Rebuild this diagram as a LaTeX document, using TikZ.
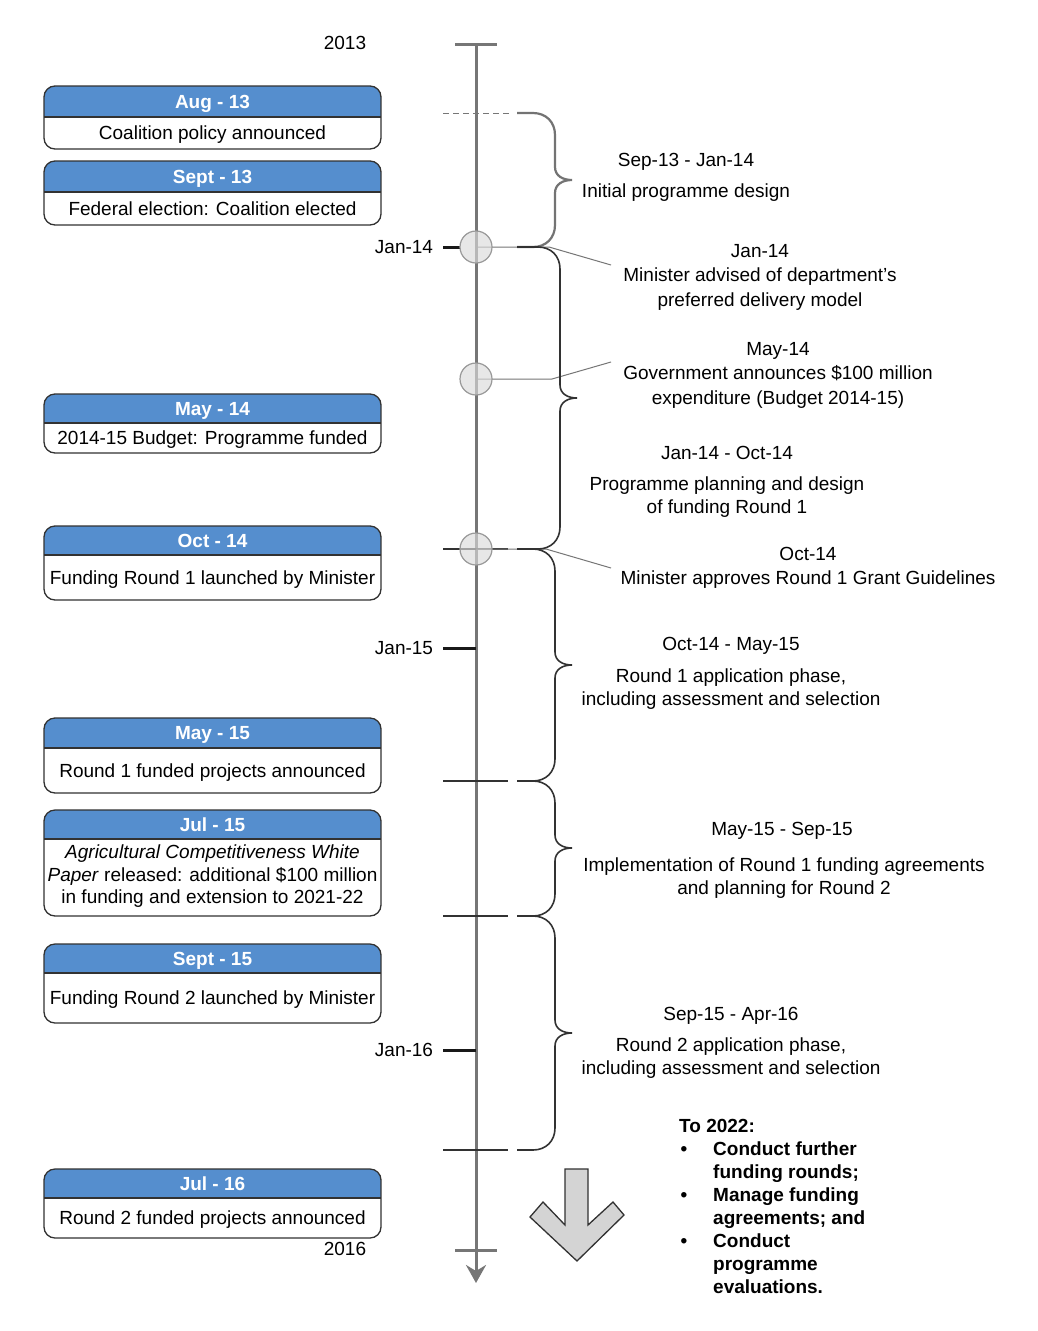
\documentclass[tikz,border=0pt]{standalone}
\usepackage{fontspec}
\setmainfont{Liberation Sans}
\usetikzlibrary{arrows.meta}

\definecolor{headblue}{RGB}{85,142,206}
\definecolor{axisgray}{RGB}{118,118,118}
\definecolor{linedark}{RGB}{50,50,50}
\definecolor{arrowfill}{RGB}{212,212,212}

\tikzset{
  boxline/.style={draw=linedark, line width=1.3pt},
  headtext/.style={text=white, font=\fontsize{19}{23}\selectfont\bfseries, inner sep=0pt},
  bodytext/.style={font=\fontsize{19}{22.5}\selectfont, align=center, inner sep=0pt},
  oneline/.style={font=\fontsize{19}{23}\selectfont, inner sep=0pt, text height=13.6pt, text depth=0pt},
  datetext/.style={font=\fontsize{19}{24.5}\selectfont, align=center, inner sep=0pt},
  desctext/.style={font=\fontsize{19}{22.5}\selectfont, align=center, inner sep=0pt},
  listtext/.style={font=\fontsize{19}{23}\selectfont\bfseries, align=left, inner sep=0pt},
  axisline/.style={draw=axisgray, line width=3pt},
  monthtick/.style={draw=black!90, line width=3pt},
  bound/.style={draw=linedark, line width=1.3pt},
  curly/.style={draw=linedark, line width=1.6pt},
  callout/.style={draw=axisgray, line width=1pt},
  milestone/.style={circle, minimum size=32pt, inner sep=0pt, draw=black!40,
    fill=black!14, fill opacity=0.65, line width=1.2pt},
}

% event box: name, top, split, bottom, date, text, shift of text
\newcommand{\eventbox}[7]{%
  \begin{scope}
    \clip[rounded corners=11pt] (44,#2) rectangle (381,#4);
    \fill[headblue] (44,#2) rectangle (381,#3);
  \end{scope}
  \draw[boxline, rounded corners=11pt] (44,#2) rectangle (381,#4);
  \draw[boxline] (44,#3) -- (381,#3);
  \node[headtext, text height=13.6pt, text depth=0pt] (#1date) at (212.5,{(#2+#3)/2}) {#5};
  \node[bodytext] (#1text) at (212.5,{(#3+#4)/2+#7}) {#6};
}

% curly brace: top, bottom, vertical x, middle y
\newcommand{\curlybrace}[4]{%
  (517,#1) -- (#3-22,#1) .. controls (#3-9,#1) and (#3,#1+9) .. (#3,#1+22)
    -- (#3,#4-13) .. controls (#3,#4-4) and (#3+8,#4) .. (#3+17,#4)
    .. controls (#3+8,#4) and (#3,#4+4) .. (#3,#4+13)
    -- (#3,#2-22) .. controls (#3,#2-9) and (#3-9,#2) .. (#3-22,#2) -- (517,#2)
}

\begin{document}
\begin{tikzpicture}[x=1pt, y=-1pt]
  \useasboundingbox (0,0) rectangle (1038,1331);
  \fill[white] (0,0) rectangle (1038,1331);

  % timeline
  \coordinate (top) at (476,44);
  \coordinate (bottom) at (476,1283);
  \draw[axisline, -{Stealth[length=18pt, width=20pt, inset=6pt]}] (top) -- (bottom);
  \draw[axisline] (455,44) -- (497,44);
  \draw[axisline] (455,1250) -- (497,1250);

  % years and months
  \node[oneline] (y2013) at (345,43) {2013};
  \node[oneline] (y2016) at (345,1249) {2016};
  \node[oneline] (jan14) at (404,247) {Jan-14};
  \node[oneline] (jan15) at (404,648) {Jan-15};
  \node[oneline] (jan16) at (404,1050) {Jan-16};
  \draw[monthtick] (443,247) -- (460,247);
  \draw[monthtick] (443,648) -- (476,648);
  \draw[monthtick] (443,1050) -- (476,1050);

  % period boundaries
  \draw[draw=axisgray, line width=1pt, dash pattern=on 6pt off 4pt] (443,113) -- (510,113);
  \foreach \y in {549,781,916,1150}
    \draw[bound] (443,\y) -- (508,\y);

  % milestones
  \coordinate (m1bend) at (549,247);
  \coordinate (m1end) at (611,265);
  \coordinate (m2bend) at (552,379);
  \coordinate (m2end) at (611,362);
  \coordinate (m3bend) at (546,549);
  \coordinate (m3end) at (611,568);
  \draw[callout] (476,247) -- (m1bend) -- (m1end);
  \draw[callout] (476,379) -- (m2bend) -- (m2end);
  \draw[callout] (476,549) -- (m3bend) -- (m3end);

  % braces
  \draw[curly, draw=black!55, line width=2.2pt] \curlybrace{113}{247}{555}{180};
  \draw[curly] \curlybrace{247}{549}{560}{398};
  \draw[curly] \curlybrace{549}{781}{555}{665};
  \draw[curly] \curlybrace{781}{916}{555}{848};
  \draw[curly] \curlybrace{916}{1150}{555}{1033};

  \node[milestone] (m1) at (476,247) {};
  \node[milestone] (m2) at (476,379) {};
  \node[milestone] (m3) at (476,549) {};

  % events
  \eventbox{aug13}{86}{117}{149}{Aug - 13}{Coalition policy announced}{2}
  \eventbox{sep13}{161}{192}{225}{Sept - 13}{Federal election: Coalition elected}{0}
  \eventbox{may14}{394}{423}{453}{May - 14}{2014-15 Budget: Programme funded}{2}
  \eventbox{oct14}{526}{555}{600}{Oct - 14}{Funding Round 1 launched by Minister}{2}
  \eventbox{may15}{718}{748}{793}{May - 15}{Round 1 funded projects announced}{2}
  \eventbox{jul15}{810}{839}{916}{Jul - 15}{\textit{Agricultural Competitiveness White}\\
    \textit{Paper} released: additional \$100 million\\in funding and extension to 2021-22}{-1}
  \eventbox{sep15}{944}{973}{1023}{Sept - 15}{Funding Round 2 launched by Minister}{2}
  \eventbox{jul16}{1169}{1198}{1238}{Jul - 16}{Round 2 funded projects announced}{2}

  % periods and milestone notes
  \node[oneline] (p1date) at (686,160) {Sep-13 - Jan-14};
  \node[oneline] (p1text) at (686,191) {Initial programme design};
  \node[datetext] (m1text) at (760,277) {Jan-14\\Minister advised of department's\\preferred delivery model};
  \node[datetext] (m2text) at (778,375) {May-14\\Government announces \$100 million\\expenditure (Budget 2014-15)};
  \node[oneline] (p2date) at (727,453) {Jan-14 - Oct-14};
  \node[desctext] (p2text) at (727,497) {Programme planning and design\\of funding Round 1};
  \node[datetext] (m3text) at (808,568) {Oct-14\\Minister approves Round 1 Grant Guidelines};
  \node[oneline] (p3date) at (731,644) {Oct-14 - May-15};
  \node[desctext] (p3text) at (731,689) {Round 1 application phase,\\including assessment and selection};
  \node[oneline] (p4date) at (782,829) {May-15 - Sep-15};
  \node[desctext] (p4text) at (784,878) {Implementation of Round 1 funding agreements\\and planning for Round 2};
  \node[oneline] (p5date) at (731,1014) {Sep-15 - Apr-16};
  \node[desctext] (p5text) at (731,1058) {Round 2 application phase,\\including assessment and selection};

  % beyond 2016
  \draw[draw=linedark, line width=1.3pt, fill=arrowfill] (565,1169) -- (588,1169) -- (588,1225)
    -- (613,1202) -- (624,1215) -- (577,1261) -- (530,1217) -- (543,1202) -- (565,1225) -- cycle;
  \node[listtext, anchor=west, text height=13.6pt, text depth=0pt] (todo) at (679,1126) {To 2022:};
  \node[listtext, anchor=north west] (todolist) at (713,1142) {Conduct further\\funding rounds;\\Manage funding\\agreements; and\\Conduct\\programme\\evaluations.};
  \foreach \y/\n in {1149/b1,1195/b2,1241/b3}
    \node[listtext, text height=13.6pt, text depth=0pt] (\n) at (684,\y) {•};
\end{tikzpicture}
\end{document}
